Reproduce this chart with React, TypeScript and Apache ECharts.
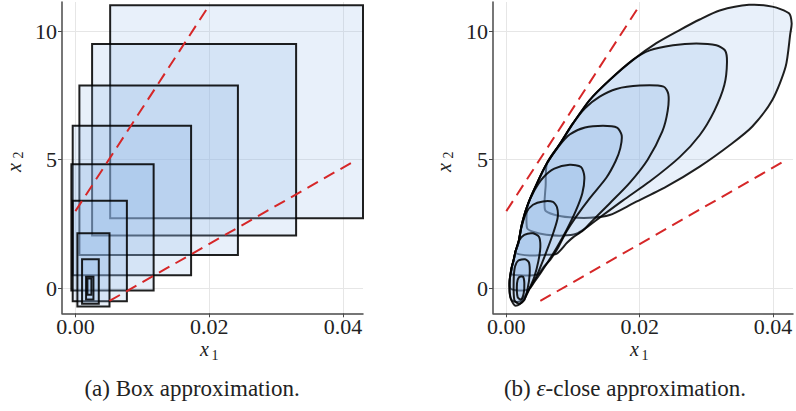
import React, { useEffect, useRef } from "react";
import * as echarts from "echarts";

// ---- axes ----
const xTicks = [0, 0.02, 0.04];
const yTicks = [0, 5, 10];
const X_MIN = -0.002;
const X_MAX = 0.043;
const Y_MIN = -0.97;
const Y_MAX = 11.13;

// ---- (a) box approximation: boxes [x0,x1] x [y0,y1] ----
const boxX0 = [0.0052, 0.0025, 0.0006, -0.0004, -0.0006, -0.0004, 0.0003, 0.001, 0.0016, 0.0018];
const boxX1 = [0.043, 0.033, 0.0243, 0.0173, 0.0117, 0.0077, 0.0051, 0.0035, 0.0027, 0.0024];
const boxY0 = [2.72, 2.05, 1.3, 0.51, -0.08, -0.5, -0.71, -0.6, -0.43, -0.25];
const boxY1 = [11.0, 9.5, 7.88, 6.32, 4.82, 3.4, 2.14, 1.13, 0.45, 0.38];

// ---- (b) epsilon-close sets (contours) ----
const set1 = [[0.0058,3.05],[0.0059,4.0],[0.0061,4.86],[0.0081,5.64],[0.01,6.41],[0.0125,7.32],[0.0155,8.1],[0.019,8.88],[0.0225,9.53],[0.026,10.04],[0.029,10.45],[0.032,10.8],[0.0364,11.02],[0.0399,10.95],[0.0424,10.69],[0.0428,10.3],[0.0426,9.91],[0.0419,8.62],[0.0399,7.32],[0.0369,6.29],[0.0339,5.64],[0.029,4.73],[0.024,3.95],[0.019,3.3],[0.0155,2.85],[0.0125,2.74],[0.0095,2.76],[0.0072,2.86]];
const set2 = [[0.0031,2.35],[0.0032,3.22],[0.0046,4.08],[0.0061,4.86],[0.0081,5.64],[0.01,6.41],[0.0125,7.32],[0.0155,8.1],[0.019,8.88],[0.0215,9.25],[0.025,9.45],[0.0285,9.52],[0.0315,9.45],[0.0328,9.25],[0.0331,8.8],[0.0327,7.9],[0.0312,6.9],[0.029,5.95],[0.026,5.1],[0.0215,4.15],[0.0175,3.42],[0.014,2.75],[0.012,2.36],[0.0105,2.12],[0.0085,2.05],[0.006,2.08],[0.004,2.2]];
const set3 = [[0.0013,1.38],[0.0014,1.45],[0.0018,1.75],[0.0023,2.45],[0.0031,3.17],[0.0046,4.08],[0.0061,4.86],[0.0081,5.64],[0.01,6.41],[0.0118,7.0],[0.014,7.45],[0.0165,7.75],[0.02,7.88],[0.0236,7.84],[0.0243,7.55],[0.0242,6.9],[0.0234,6.1],[0.0212,5.0],[0.0185,4.1],[0.0155,3.3],[0.013,2.65],[0.0115,2.25],[0.01,1.98],[0.0091,1.77],[0.0075,1.34],[0.0055,1.3],[0.0035,1.28],[0.002,1.32]];
const set4 = [[0.0008,0.55],[0.0008,0.8],[0.0011,1.1],[0.0014,1.45],[0.0018,1.75],[0.0023,2.45],[0.0031,3.17],[0.0046,4.08],[0.0061,4.86],[0.0078,5.5],[0.0095,5.98],[0.0118,6.25],[0.0145,6.32],[0.0166,6.25],[0.0173,5.95],[0.0171,5.45],[0.0164,4.95],[0.015,4.3],[0.0125,3.5],[0.0105,2.8],[0.009,2.2],[0.0078,1.6],[0.0066,1.12],[0.0055,0.8],[0.0048,0.55],[0.0035,0.5],[0.002,0.51]];
const set5 = [[0.0006,0.0],[0.0005,0.3],[0.0008,0.8],[0.0011,1.1],[0.0014,1.45],[0.0018,1.75],[0.0023,2.45],[0.0031,3.17],[0.0042,3.8],[0.0055,4.3],[0.0072,4.65],[0.0095,4.8],[0.0112,4.72],[0.0117,4.35],[0.0114,3.7],[0.0104,3.0],[0.009,2.25],[0.0076,1.6],[0.0063,1.05],[0.0052,0.62],[0.0042,0.25],[0.0034,-0.03],[0.0025,-0.08],[0.0012,-0.06]];
const set6 = [[0.0008,-0.45],[0.0005,-0.2],[0.0005,0.3],[0.0008,0.8],[0.0011,1.1],[0.0014,1.45],[0.0018,1.75],[0.0023,2.4],[0.003,2.95],[0.004,3.25],[0.0055,3.38],[0.007,3.36],[0.0076,3.15],[0.0077,2.75],[0.0071,2.2],[0.0062,1.55],[0.0053,0.95],[0.0045,0.45],[0.0036,0.05],[0.0028,-0.3],[0.0021,-0.5],[0.0013,-0.52]];
const set7 = [[0.0011,-0.62],[0.0006,-0.35],[0.0005,0.3],[0.0008,0.8],[0.0011,1.1],[0.0014,1.45],[0.0019,1.85],[0.0027,2.08],[0.004,2.14],[0.0049,2.0],[0.0051,1.6],[0.0048,1.05],[0.0042,0.45],[0.0034,-0.05],[0.0027,-0.42],[0.002,-0.62],[0.0014,-0.68]];
const set8 = [[0.0012,-0.45],[0.0011,0.3],[0.0013,0.85],[0.0018,1.08],[0.0028,1.13],[0.0034,1.0],[0.0035,0.55],[0.0032,0.0],[0.0027,-0.45],[0.0019,-0.6]];
const set9 = [[0.0017,-0.35],[0.0016,0.2],[0.0019,0.43],[0.0025,0.45],[0.0027,0.2],[0.0026,-0.2],[0.0022,-0.43]];
const epsSets = [set1, set2, set3, set4, set5, set6, set7, set8, set9];

// ---- red dashed bounds ----
const upperBound = [[0, 3.0], [0.02, 11.0]];
const lowerBound = [[0.0051, -0.49], [0.042, 4.99]];

const FILL = "rgba(140,180,230,0.2)";
const STROKE = "rgba(0,0,0,0.88)";
const RED = "#d62728";
const SERIF = "'Liberation Serif', 'DejaVu Serif', serif";

function makeAxes(i: number) {
  const xAxis = {
    type: "value",
    gridIndex: i,
    min: X_MIN,
    max: X_MAX,
    axisLine: { show: true, onZero: false, lineStyle: { color: "#4a4a4a", width: 1.5 } },
    axisTick: { show: true, customValues: xTicks, length: 4, lineStyle: { color: "#4a4a4a", width: 1 } },
    axisLabel: {
      customValues: xTicks,
      formatter: (v: number) => v.toFixed(2),
      fontFamily: SERIF,
      fontSize: 22,
      color: "#222",
      margin: 2,
    },
    splitLine: { show: true, lineStyle: { color: "#e6e6e6", width: 1 } },
  };
  const yAxis = {
    type: "value",
    gridIndex: i,
    min: Y_MIN,
    max: Y_MAX,
    axisLine: { show: true, onZero: false, lineStyle: { color: "#4a4a4a", width: 1.5 } },
    axisTick: { show: true, customValues: yTicks, length: 4, lineStyle: { color: "#4a4a4a", width: 1 } },
    axisLabel: {
      customValues: yTicks,
      formatter: (v: number) => String(v),
      fontFamily: SERIF,
      fontSize: 22,
      color: "#222",
      margin: 5,
    },
    splitLine: { show: true, lineStyle: { color: "#e6e6e6", width: 1 } },
  };
  return { xAxis, yAxis };
}

const centered = { align: "center", verticalAlign: "middle", textAlign: "center", textVerticalAlign: "middle" };

function axisTitles(dx: number, captionX: number, caption: any) {
  return [
    {
      type: "text",
      x: 204.5 + dx,
      y: 349,
      style: Object.assign({ text: "x", font: `italic 20px ${SERIF}`, fill: "#222" }, centered),
    },
    {
      type: "text",
      x: 215 + dx,
      y: 355,
      style: Object.assign({ text: "1", font: `14px ${SERIF}`, fill: "#222" }, centered),
    },
    {
      type: "group",
      x: 14 + dx,
      y: 161.5,
      rotation: Math.PI / 2,
      children: [
        {
          type: "text",
          x: -6,
          y: 0,
          style: Object.assign({ text: "x", font: `italic 20px ${SERIF}`, fill: "#222" }, centered),
        },
        {
          type: "text",
          x: 6.5,
          y: 4,
          style: Object.assign({ text: "2", font: `14px ${SERIF}`, fill: "#222" }, centered),
        },
      ],
    },
    {
      type: "text",
      x: captionX,
      y: 388,
      style: Object.assign(
        { font: `23px ${SERIF}`, fontFamily: SERIF, fontSize: 23, fill: "#222" },
        centered,
        caption
      ),
    },
  ];
}

export default function App() {
  const ref = useRef<HTMLDivElement>(null);
  useEffect(() => {
    if (!ref.current) return;
    const chart = echarts.init(ref.current, undefined, { renderer: "svg" });
    const a0 = makeAxes(0);
    const a1 = makeAxes(1);
    const option: any = {
      animation: false,
      backgroundColor: "#ffffff",
      grid: [
        { left: 62, top: 2, width: 301, height: 311.3, containLabel: false },
        { left: 493, top: 2, width: 300, height: 311.3, containLabel: false },
      ],
      xAxis: [a0.xAxis, a1.xAxis],
      yAxis: [a0.yAxis, a1.yAxis],
      series: [
        {
          type: "custom",
          xAxisIndex: 0,
          yAxisIndex: 0,
          data: boxX0.map((x, i) => [x, boxY0[i]]),
          renderItem: (params: any, api: any) => {
            const i = params.dataIndex;
            const p0 = api.coord([boxX0[i], boxY1[i]]);
            const p1 = api.coord([boxX1[i], boxY0[i]]);
            return {
              type: "rect",
              shape: { x: p0[0], y: p0[1], width: p1[0] - p0[0], height: p1[1] - p0[1] },
              style: { fill: FILL, stroke: STROKE, lineWidth: 2 },
            };
          },
          z: 2,
        },
        {
          type: "custom",
          xAxisIndex: 1,
          yAxisIndex: 1,
          data: epsSets.map((s) => [s[0][0], s[0][1]]),
          renderItem: (params: any, api: any) => {
            const s = epsSets[params.dataIndex];
            const pts = s.map((p) => api.coord(p));
            return {
              type: "polygon",
              shape: { points: pts, smooth: 0.25 },
              style: { fill: FILL, stroke: STROKE, lineWidth: 2, lineJoin: "round" },
            };
          },
          z: 2,
        },
        ...[0, 1].flatMap((g) =>
          [upperBound, lowerBound].map((d) => ({
            type: "line",
            xAxisIndex: g,
            yAxisIndex: g,
            data: d,
            symbol: "none",
            showSymbol: false,
            silent: true,
            lineStyle: { color: RED, width: 2, type: [12, 7] },
            z: 5,
          }))
        ),
      ],
      graphic: [
        ...axisTitles(0, 192, { text: "(a) Box approximation." }),
        ...axisTitles(430, 625, {
          text: "(b) {e|ε}-close approximation.",
          rich: { e: { fontStyle: "italic", fontFamily: SERIF, fontSize: 23, fill: "#222" } },
        }),
      ],
    };
    chart.setOption(option);
    return () => chart.dispose();
  }, []);
  return (
    <div
      ref={ref}
      style={{ position: "absolute", left: 0, top: 0, width: 796, height: 411, background: "#fff" }}
    />
  );
}
